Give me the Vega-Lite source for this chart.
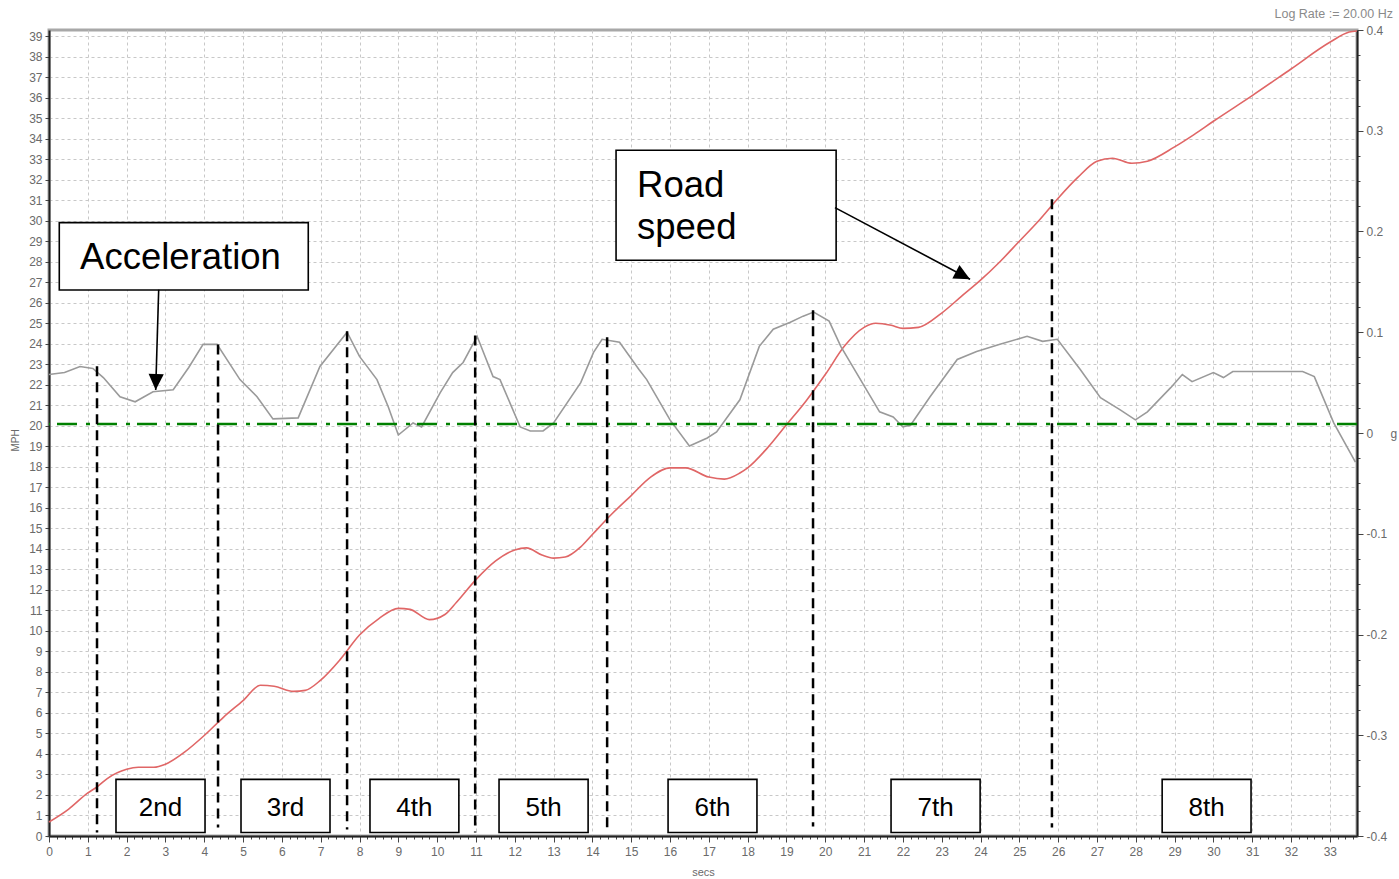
{
  "$schema": "https://vega.github.io/schema/vega-lite/v6.json",
  "width": 1308,
  "height": 806,
  "autosize": {"type": "none"},
  "padding": {"left": 49, "top": 30, "right": 42, "bottom": 43},
  "background": "white",
  "title": {"text": "Log Rate := 20.00 Hz", "anchor": "end", "frame": "group", "dx": 36, "fontSize": 12.5, "fontWeight": "normal", "color": "#8a8a8a", "offset": 4, "font": "Liberation Sans"},
  "config": {
    "font": "Liberation Sans",
    "view": {"stroke": "#a8a8a8", "strokeWidth": 3},
    "axis": {"labelFont": "Liberation Sans", "labelFontSize": 12, "labelColor": "#6a6a6a", "titleFont": "Liberation Sans", "titleFontSize": 11, "titleFontWeight": "normal", "titleColor": "#6a6a6a", "domainColor": "#222222", "domainWidth": 2, "tickColor": "#444444", "gridColor": "#c8c8c8", "gridDash": [3, 3], "gridWidth": 1, "labelOverlap": false, "labelFlush": false}
  },
  "datasets": {
    "speed": [
      {"t": 0, "mph": 0.68}, {"t": 0.5, "mph": 1.3}, {"t": 1.0, "mph": 2.1}, {"t": 1.24, "mph": 2.4}, {"t": 1.5, "mph": 2.8}, {"t": 2.0, "mph": 3.25}, {"t": 2.3, "mph": 3.35}, {"t": 2.7, "mph": 3.35}, {"t": 3.0, "mph": 3.5}, {"t": 3.5, "mph": 4.1}, {"t": 4.0, "mph": 4.9}, {"t": 4.5, "mph": 5.8}, {"t": 5.0, "mph": 6.6}, {"t": 5.45, "mph": 7.35}, {"t": 5.8, "mph": 7.3}, {"t": 6.3, "mph": 7.05}, {"t": 6.6, "mph": 7.1}, {"t": 7.0, "mph": 7.6}, {"t": 7.5, "mph": 8.6}, {"t": 8.0, "mph": 9.8}, {"t": 8.5, "mph": 10.6}, {"t": 9.0, "mph": 11.1}, {"t": 9.3, "mph": 11.05}, {"t": 9.8, "mph": 10.55}, {"t": 10.2, "mph": 10.8}, {"t": 10.5, "mph": 11.4}, {"t": 11.0, "mph": 12.5}, {"t": 11.5, "mph": 13.4}, {"t": 12.0, "mph": 13.95}, {"t": 12.3, "mph": 14.05}, {"t": 12.7, "mph": 13.7}, {"t": 13.0, "mph": 13.55}, {"t": 13.3, "mph": 13.6}, {"t": 13.7, "mph": 14.1}, {"t": 14.0, "mph": 14.7}, {"t": 14.5, "mph": 15.7}, {"t": 15.0, "mph": 16.6}, {"t": 15.5, "mph": 17.5}, {"t": 16.0, "mph": 17.95}, {"t": 16.4, "mph": 17.95}, {"t": 17.0, "mph": 17.5}, {"t": 17.4, "mph": 17.4}, {"t": 17.8, "mph": 17.7}, {"t": 18.0, "mph": 17.95}, {"t": 18.5, "mph": 18.9}, {"t": 19.0, "mph": 20.05}, {"t": 19.5, "mph": 21.2}, {"t": 20.0, "mph": 22.5}, {"t": 20.5, "mph": 23.9}, {"t": 21.0, "mph": 24.8}, {"t": 21.3, "mph": 25.0}, {"t": 21.7, "mph": 24.9}, {"t": 22.0, "mph": 24.75}, {"t": 22.4, "mph": 24.8}, {"t": 23.0, "mph": 25.5}, {"t": 23.5, "mph": 26.3}, {"t": 24.0, "mph": 27.1}, {"t": 24.5, "mph": 28.0}, {"t": 25.0, "mph": 29.0}, {"t": 25.5, "mph": 30.0}, {"t": 26.0, "mph": 31.1}, {"t": 26.5, "mph": 32.1}, {"t": 27.0, "mph": 32.9}, {"t": 27.4, "mph": 33.05}, {"t": 27.9, "mph": 32.8}, {"t": 28.3, "mph": 32.9}, {"t": 29.0, "mph": 33.6}, {"t": 29.5, "mph": 34.2}, {"t": 30.0, "mph": 34.85}, {"t": 31.0, "mph": 36.1}, {"t": 32.0, "mph": 37.4}, {"t": 33.0, "mph": 38.7}, {"t": 33.5, "mph": 39.2}, {"t": 33.7, "mph": 39.25}
    ],
    "accel": [
      {"t": 0, "g": 0.058}, {"t": 0.4, "g": 0.06}, {"t": 0.8, "g": 0.066}, {"t": 1.13, "g": 0.064}, {"t": 1.4, "g": 0.055}, {"t": 1.83, "g": 0.036}, {"t": 2.22, "g": 0.031}, {"t": 2.68, "g": 0.041}, {"t": 3.2, "g": 0.043}, {"t": 3.6, "g": 0.065}, {"t": 3.97, "g": 0.088}, {"t": 4.33, "g": 0.088}, {"t": 4.92, "g": 0.053}, {"t": 5.36, "g": 0.036}, {"t": 5.77, "g": 0.014}, {"t": 6.42, "g": 0.015}, {"t": 6.98, "g": 0.066}, {"t": 7.68, "g": 0.1}, {"t": 8.0, "g": 0.076}, {"t": 8.45, "g": 0.053}, {"t": 8.74, "g": 0.026}, {"t": 9.0, "g": -0.002}, {"t": 9.38, "g": 0.01}, {"t": 9.6, "g": 0.006}, {"t": 10.08, "g": 0.04}, {"t": 10.4, "g": 0.06}, {"t": 10.67, "g": 0.07}, {"t": 11.03, "g": 0.096}, {"t": 11.44, "g": 0.056}, {"t": 11.62, "g": 0.053}, {"t": 12.14, "g": 0.006}, {"t": 12.4, "g": 0.002}, {"t": 12.73, "g": 0.002}, {"t": 13.0, "g": 0.01}, {"t": 13.7, "g": 0.05}, {"t": 14.03, "g": 0.08}, {"t": 14.25, "g": 0.093}, {"t": 14.7, "g": 0.09}, {"t": 15.2, "g": 0.063}, {"t": 15.4, "g": 0.053}, {"t": 16.0, "g": 0.013}, {"t": 16.5, "g": -0.013}, {"t": 16.96, "g": -0.005}, {"t": 17.2, "g": 0.001}, {"t": 17.8, "g": 0.033}, {"t": 18.3, "g": 0.086}, {"t": 18.66, "g": 0.103}, {"t": 19.1, "g": 0.11}, {"t": 19.43, "g": 0.116}, {"t": 19.7, "g": 0.12}, {"t": 20.1, "g": 0.111}, {"t": 20.4, "g": 0.086}, {"t": 20.8, "g": 0.06}, {"t": 21.4, "g": 0.021}, {"t": 21.75, "g": 0.016}, {"t": 22.0, "g": 0.006}, {"t": 22.2, "g": 0.008}, {"t": 22.7, "g": 0.036}, {"t": 23.4, "g": 0.073}, {"t": 23.9, "g": 0.081}, {"t": 24.5, "g": 0.088}, {"t": 25.2, "g": 0.096}, {"t": 25.6, "g": 0.091}, {"t": 25.98, "g": 0.093}, {"t": 26.57, "g": 0.063}, {"t": 27.09, "g": 0.035}, {"t": 27.6, "g": 0.023}, {"t": 27.99, "g": 0.013}, {"t": 28.3, "g": 0.021}, {"t": 28.9, "g": 0.045}, {"t": 29.2, "g": 0.058}, {"t": 29.45, "g": 0.051}, {"t": 30.0, "g": 0.06}, {"t": 30.26, "g": 0.055}, {"t": 30.5, "g": 0.061}, {"t": 31.8, "g": 0.061}, {"t": 32.3, "g": 0.061}, {"t": 32.6, "g": 0.056}, {"t": 33.1, "g": 0.01}, {"t": 33.66, "g": -0.029}
    ],
    "zero": [{"g": 0.009}],
    "dashes": [
      {"t": 1.237, "top": 22.9, "bottom": 0.17}, {"t": 4.355, "top": 23.97, "bottom": 0.41}, {"t": 7.68, "top": 24.61, "bottom": 0.32}, {"t": 10.98, "top": 24.4, "bottom": 0.17}, {"t": 14.38, "top": 24.32, "bottom": 0.17}, {"t": 19.685, "top": 25.63, "bottom": 0.46}, {"t": 25.84, "top": 31.05, "bottom": 0.41}
    ],
    "boxes": [
      {"x1": 0.265, "x2": 6.68, "y1": 26.62, "y2": 29.91},
      {"x1": 14.61, "x2": 20.28, "y1": 28.07, "y2": 33.44},
      {"x1": 1.726, "x2": 4.02, "y1": 0.17, "y2": 2.76},
      {"x1": 4.947, "x2": 7.24, "y1": 0.17, "y2": 2.76},
      {"x1": 8.27, "x2": 10.56, "y1": 0.17, "y2": 2.76},
      {"x1": 11.595, "x2": 13.89, "y1": 0.17, "y2": 2.76},
      {"x1": 15.95, "x2": 18.24, "y1": 0.17, "y2": 2.76},
      {"x1": 21.695, "x2": 23.99, "y1": 0.17, "y2": 2.76},
      {"x1": 28.68, "x2": 30.97, "y1": 0.17, "y2": 2.76}
    ],
    "notes": [
      {"t": 0.8, "mph": 27.63, "text": "Acceleration"},
      {"t": 15.15, "mph": 31.18, "text": "Road"},
      {"t": 15.15, "mph": 29.1, "text": "speed"}
    ],
    "gears": [
      {"t": 2.873, "mph": 0.97, "text": "2nd"},
      {"t": 6.094, "mph": 0.97, "text": "3rd"},
      {"t": 9.415, "mph": 0.97, "text": "4th"},
      {"t": 12.743, "mph": 0.97, "text": "5th"},
      {"t": 17.095, "mph": 0.97, "text": "6th"},
      {"t": 22.843, "mph": 0.97, "text": "7th"},
      {"t": 29.825, "mph": 0.97, "text": "8th"}
    ],
    "arrows": [
      {"name": "acc", "x1": 2.826, "y1": 26.63, "x2": 2.749, "y2": 21.75},
      {"name": "road", "x1": 20.25, "y1": 30.64, "x2": 23.73, "y2": 27.15}
    ]
  },
  "layer": [
    {
      "data": {"name": "speed"},
      "mark": {"type": "line", "color": "#e06666", "strokeWidth": 1.6, "interpolate": "monotone"},
      "encoding": {
        "x": {"field": "t", "type": "quantitative", "scale": {"domain": [0, 33.7], "nice": false, "zero": false},
          "axis": {"title": "secs", "titleY": 36, "titleBaseline": "middle", "labelPadding": 4, "grid": true, "labelOverlap": false, "labelFlush": false, "tickCount": 400,
            "values": [0,0.2,0.4,0.6,0.8,1,1.2,1.4,1.6,1.8,2,2.2,2.4,2.6,2.8,3,3.2,3.4,3.6,3.8,4,4.2,4.4,4.6,4.8,5,5.2,5.4,5.6,5.8,6,6.2,6.4,6.6,6.8,7,7.2,7.4,7.6,7.8,8,8.2,8.4,8.6,8.8,9,9.2,9.4,9.6,9.8,10,10.2,10.4,10.6,10.8,11,11.2,11.4,11.6,11.8,12,12.2,12.4,12.6,12.8,13,13.2,13.4,13.6,13.8,14,14.2,14.4,14.6,14.8,15,15.2,15.4,15.6,15.8,16,16.2,16.4,16.6,16.8,17,17.2,17.4,17.6,17.8,18,18.2,18.4,18.6,18.8,19,19.2,19.4,19.6,19.8,20,20.2,20.4,20.6,20.8,21,21.2,21.4,21.6,21.8,22,22.2,22.4,22.6,22.8,23,23.2,23.4,23.6,23.8,24,24.2,24.4,24.6,24.8,25,25.2,25.4,25.6,25.8,26,26.2,26.4,26.6,26.8,27,27.2,27.4,27.6,27.8,28,28.2,28.4,28.6,28.8,29,29.2,29.4,29.6,29.8,30,30.2,30.4,30.6,30.8,31,31.2,31.4,31.6,31.8,32,32.2,32.4,32.6,32.8,33,33.2,33.4,33.6],
            "labelExpr": "abs(datum.value-round(datum.value))<0.01 ? ('' + round(datum.value)) : ''",
            "tickSize": {"condition": {"test": "abs(datum.value-round(datum.value))<0.01", "value": 6}, "value": 3},
            "gridOpacity": {"condition": {"test": "abs(datum.value-round(datum.value))<0.01", "value": 1}, "value": 0}}},
        "y": {"field": "mph", "type": "quantitative", "scale": {"domain": [0, 39.3], "nice": false, "zero": false},
          "axis": {"orient": "left", "title": "MPH", "titleX": -34, "titleY": 410, "titleAlign": "center", "titleBaseline": "middle", "titleFontSize": 10, "grid": true, "tickSize": 4, "labelPadding": 3, "labelOverlap": false, "labelFlush": false, "tickCount": 400,
            "values": [0,1,2,3,4,5,6,7,8,9,10,11,12,13,14,15,16,17,18,19,20,21,22,23,24,25,26,27,28,29,30,31,32,33,34,35,36,37,38,39], "format": "d"}}
      }
    },
    {
      "data": {"name": "accel"},
      "mark": {"type": "line", "color": "#9a9a9a", "strokeWidth": 1.6},
      "encoding": {
        "x": {"field": "t", "type": "quantitative"},
        "y": {"field": "g", "type": "quantitative", "scale": {"domain": [-0.4, 0.4], "nice": false, "zero": false},
          "axis": {"orient": "right", "title": "g", "titleAngle": 0, "titleX": 33, "titleY": 403, "titleAlign": "left", "titleBaseline": "middle", "titleFontSize": 12, "grid": false, "labelPadding": 3, "labelOverlap": false, "labelFlush": false, "tickCount": 400,
            "values": [-0.4, -0.375, -0.35, -0.325, -0.3, -0.275, -0.25, -0.225, -0.2, -0.175, -0.15, -0.125, -0.1, -0.075, -0.05, -0.025, 0, 0.025, 0.05, 0.075, 0.1, 0.125, 0.15, 0.175, 0.2, 0.225, 0.25, 0.275, 0.3, 0.325, 0.35, 0.375, 0.4],
            "labelExpr": "abs(datum.value*10-round(datum.value*10))<0.01 ? (abs(datum.value)<0.001 ? '0' : replace(format(datum.value,'.1f'),'\u2212','-')) : ''",
            "tickSize": {"condition": {"test": "abs(datum.value*10-round(datum.value*10))<0.01", "value": 6}, "value": 3}}}
      }
    },
    {
      "data": {"name": "zero"},
      "mark": {"type": "rule", "color": "#008000", "strokeWidth": 2.5, "strokeDash": [20, 7, 4, 9]},
      "encoding": {
        "y": {"field": "g", "type": "quantitative", "scale": {"domain": [-0.4, 0.4], "nice": false, "zero": false}, "axis": null}
      }
    },
    {
      "data": {"name": "dashes"},
      "mark": {"type": "rule", "color": "black", "strokeWidth": 2.5, "strokeDash": [10, 6]},
      "encoding": {
        "x": {"field": "t", "type": "quantitative"},
        "y": {"field": "top", "type": "quantitative", "scale": {"domain": [0, 39.3], "nice": false, "zero": false}, "axis": null},
        "y2": {"field": "bottom"}
      }
    },
    {
      "data": {"name": "boxes"},
      "mark": {"type": "rect", "fill": "white", "stroke": "black", "strokeWidth": 1.6},
      "encoding": {
        "x": {"field": "x1", "type": "quantitative"},
        "x2": {"field": "x2"},
        "y": {"field": "y1", "type": "quantitative", "scale": {"domain": [0, 39.3], "nice": false, "zero": false}, "axis": null},
        "y2": {"field": "y2"}
      }
    },
    {
      "data": {"name": "notes"},
      "mark": {"type": "text", "fontSize": 36.5, "align": "left", "baseline": "alphabetic", "color": "black", "font": "Liberation Sans"},
      "encoding": {
        "x": {"field": "t", "type": "quantitative"},
        "y": {"field": "mph", "type": "quantitative", "scale": {"domain": [0, 39.3], "nice": false, "zero": false}, "axis": null},
        "text": {"field": "text"}
      }
    },
    {
      "data": {"name": "gears"},
      "mark": {"type": "text", "fontSize": 26, "align": "center", "baseline": "alphabetic", "color": "black", "font": "Liberation Sans"},
      "encoding": {
        "x": {"field": "t", "type": "quantitative"},
        "y": {"field": "mph", "type": "quantitative", "scale": {"domain": [0, 39.3], "nice": false, "zero": false}, "axis": null},
        "text": {"field": "text"}
      }
    },
    {
      "data": {"name": "arrows"},
      "mark": {"type": "rule", "color": "black", "strokeWidth": 1.6},
      "encoding": {
        "x": {"field": "x1", "type": "quantitative"},
        "x2": {"field": "x2"},
        "y": {"field": "y1", "type": "quantitative", "scale": {"domain": [0, 39.3], "nice": false, "zero": false}, "axis": null},
        "y2": {"field": "y2"}
      }
    },
    {
      "data": {"name": "arrows"},
      "transform": [{"filter": "datum.name === 'acc'"}],
      "mark": {"type": "point", "shape": "M0,0L-2,-0.95L-2,0.95Z", "size": 256, "filled": true, "color": "black", "opacity": 1, "angle": 91.7},
      "encoding": {
        "x": {"field": "x2", "type": "quantitative"},
        "y": {"field": "y2", "type": "quantitative", "scale": {"domain": [0, 39.3], "nice": false, "zero": false}, "axis": null}
      }
    },
    {
      "data": {"name": "arrows"},
      "transform": [{"filter": "datum.name === 'road'"}],
      "mark": {"type": "point", "shape": "M0,0L-2,-0.95L-2,0.95Z", "size": 256, "filled": true, "color": "black", "opacity": 1, "angle": 28},
      "encoding": {
        "x": {"field": "x2", "type": "quantitative"},
        "y": {"field": "y2", "type": "quantitative", "scale": {"domain": [0, 39.3], "nice": false, "zero": false}, "axis": null}
      }
    }
  ],
  "resolve": {"scale": {"y": "independent"}}
}
